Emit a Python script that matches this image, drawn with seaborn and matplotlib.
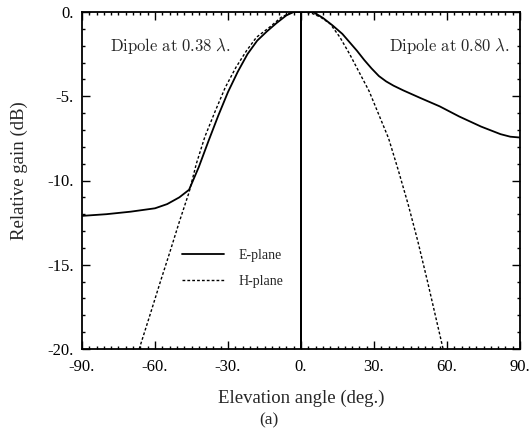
import pandas as pd
import seaborn as sns
import matplotlib.pyplot as plt
from matplotlib.ticker import MultipleLocator, FormatStrFormatter

# E-plane: left half is the 0.38 lambda dipole, right half the 0.80 lambda one,
# with the null at 0 deg drawn down to the floor of the plot
e_angle = [-90, -80, -70, -60, -55, -50, -46, -42, -38, -34, -30, -26, -22, -18,
           -14, -10, -6, -3, 0, 0, 0, 5, 9, 13, 17, 20, 23, 26, 29, 32, 35, 38,
           42, 49, 57, 65, 74, 82, 86, 90]
e_gain = [-12.1, -12.0, -11.85, -11.65, -11.4, -11.0, -10.55, -9.2, -7.65, -6.15,
          -4.75, -3.55, -2.5, -1.7, -1.15, -0.65, -0.2, 0.0, 0.0, -20.0, 0.0, 0.0,
          -0.35, -0.8, -1.3, -1.8, -2.3, -2.85, -3.35, -3.8, -4.12, -4.37,
          -4.65, -5.1, -5.6, -6.2, -6.8, -7.25, -7.4, -7.45]

h_angle = [-66.5, -62, -58, -54, -50, -46, -43, -39.5, -35.3, -31.2, -26.8, -22.4,
           -18.3, -12.9, -8, -3.5, 0, 4, 8, 12, 16, 20, 24, 28, 32, 36, 40, 44,
           48, 52, 56, 58.4]
h_gain = [-20.0, -17.95, -16.1, -14.3, -12.45, -10.7, -9.0, -7.4, -5.9, -4.5, -3.3,
          -2.3, -1.5, -0.9, -0.3, 0.0, 0.0, -0.05, -0.3, -0.7, -1.5, -2.5, -3.6,
          -4.7, -6.1, -7.5, -9.4, -11.4, -13.6, -16.0, -18.5, -20.0]

planes = ['E-plane', 'H-plane']

df = pd.concat([
    pd.DataFrame({'angle': e_angle, 'gain': e_gain, 'plane': planes[0]}),
    pd.DataFrame({'angle': h_angle, 'gain': h_gain, 'plane': planes[1]}),
], ignore_index=True)

sns.set_theme(style='ticks')
plt.rcParams['font.family'] = ['Liberation Serif', 'DejaVu Serif']
plt.rcParams['mathtext.fontset'] = 'cm'

fig = plt.figure(figsize=(5.31, 4.33), dpi=100)
ax = fig.add_axes([82 / 531, 1 - 349 / 433, 438 / 531, 337 / 433])

sns.lineplot(data=df, x='angle', y='gain', style='plane', color='black',
             dashes={'E-plane': '', 'H-plane': (2, 1.5)},
             estimator=None, sort=False, linewidth=1.3, ax=ax)

# dashed curve is thinner than the solid one
for line in ax.lines:
    if line.get_linestyle() != '-':
        line.set_linewidth(1.0)

ax.set_xlim(-90, 90)
ax.set_ylim(-20, 0)
ax.xaxis.set_major_locator(MultipleLocator(30))
ax.xaxis.set_minor_locator(MultipleLocator(3))
ax.yaxis.set_major_locator(MultipleLocator(5))
ax.yaxis.set_minor_locator(MultipleLocator(1))
ax.xaxis.set_major_formatter(FormatStrFormatter('%g.'))
ax.yaxis.set_major_formatter(FormatStrFormatter('%g.'))

ax.tick_params(which='both', direction='in', top=True, right=True, colors='black',
               width=1.0)
ax.tick_params(which='major', length=5.5, labelsize=12)
ax.tick_params(axis='x', which='major', pad=7)
ax.tick_params(axis='y', which='major', pad=6)
ax.tick_params(which='minor', length=2.5)
for sp in ax.spines.values():
    sp.set_linewidth(1.3)
    sp.set_color('black')

ax.set_xlabel('Elevation angle (deg.)', fontsize=13.5, labelpad=11)
ax.set_ylabel('Relative gain (dB)', fontsize=13.5)
ax.yaxis.set_label_coords(-0.123, 0.53)
fig.text(269 / 531, 1 - 420 / 433, '(a)', fontsize=12.5, ha='center', va='center')

ax.text(-78.5, -2.0, r'$\mathrm{Dipole\ at\ 0.38}\ \lambda.$', fontsize=12, va='center')
ax.text(36.2, -2.0, r'$\mathrm{Dipole\ at\ 0.80}\ \lambda.$', fontsize=12, va='center')

ax.legend(frameon=False, loc='center left', bbox_to_anchor=(0.228, 0.239),
          borderaxespad=0, borderpad=0, handlelength=3.0, handletextpad=1.1,
          labelspacing=0.95, fontsize=10)

fig.savefig('out.png', dpi=100)
